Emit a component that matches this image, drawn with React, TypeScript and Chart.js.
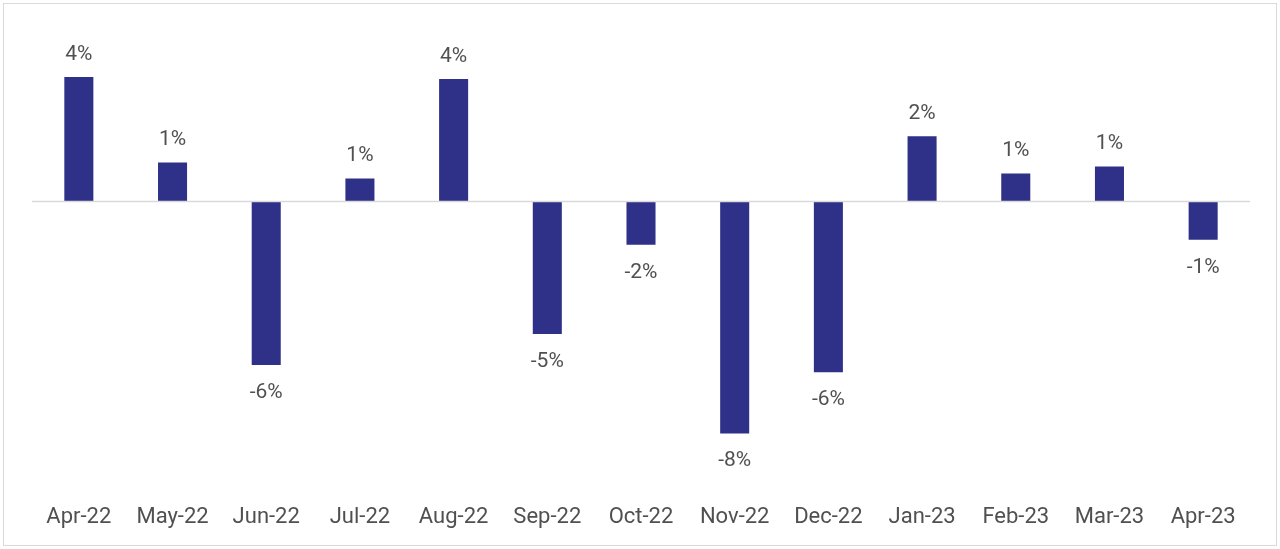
import React, { useEffect, useRef } from "react";
import { Chart, registerables } from "chart.js";

Chart.register(...registerables);

const categories = ["Apr-22", "May-22", "Jun-22", "Jul-22", "Aug-22", "Sep-22", "Oct-22", "Nov-22", "Dec-22", "Jan-23", "Feb-23", "Mar-23", "Apr-23"];
const changeValues = [4.43, 1.39, -5.82, 0.82, 4.36, -4.71, -1.54, -8.25, -6.07, 2.32, 1.0, 1.25, -1.36];
const valueLabels = ["4%", "1%", "-6%", "1%", "4%", "-5%", "-2%", "-8%", "-6%", "2%", "1%", "1%", "-1%"];

const BAR_COLOR = "#2F3189";
const TEXT_COLOR = "#505050";
const FONT = "Roboto, 'Noto Sans', sans-serif";

const labelPlugin = {
  id: "valueLabels",
  afterDatasetsDraw(chart: any) {
    const { ctx, chartArea, scales } = chart;
    const y0 = scales.y.getPixelForValue(0);
    ctx.save();
    ctx.strokeStyle = "#D9D9D9";
    ctx.lineWidth = 1.5;
    ctx.beginPath();
    ctx.moveTo(chartArea.left, y0);
    ctx.lineTo(chartArea.right, y0);
    ctx.stroke();
    const meta = chart.getDatasetMeta(0);
    ctx.fillStyle = TEXT_COLOR;
    ctx.font = `21px ${FONT}`;
    ctx.textAlign = "center";
    ctx.textBaseline = "alphabetic";
    meta.data.forEach((bar: any, i: number) => {
      const v = changeValues[i];
      const x = bar.x;
      const y = v >= 0 ? bar.y - 17 : bar.y + 33;
      ctx.fillText(valueLabels[i], x, y);
    });
    ctx.restore();
  },
};

export default function App() {
  const canvasRef = useRef<HTMLCanvasElement | null>(null);

  useEffect(() => {
    if (!canvasRef.current) return;
    const chart = new Chart(canvasRef.current, {
      type: "bar",
      data: {
        labels: categories,
        datasets: [
          {
            data: changeValues,
            backgroundColor: BAR_COLOR,
            borderWidth: 0,
            barPercentage: 0.31,
            categoryPercentage: 1,
          },
        ],
      },
      options: {
        animation: false,
        responsive: false,
        maintainAspectRatio: false,
        layout: { padding: { left: 32, right: 30, top: 61, bottom: -4 } },
        plugins: { legend: { display: false }, tooltip: { enabled: false } },
        scales: {
          x: {
            grid: { display: false, drawTicks: false },
            border: { display: false },
            ticks: {
              color: TEXT_COLOR,
              font: { family: FONT, size: 22 },
              padding: 22,
              maxRotation: 0,
              autoSkip: false,
            },
          },
          y: {
            display: false,
            min: -10,
            max: 5,
          },
        },
      },
      plugins: [labelPlugin],
    });
    return () => chart.destroy();
  }, []);

  return (
    <div style={{ position: "fixed", left: 0, top: 0, width: 1280, height: 549, background: "#fff" }}>
      <canvas ref={canvasRef} width={1280} height={549} style={{ position: "absolute", left: 0, top: 0, width: 1280, height: 549 }} />
      <div
        style={{
          position: "absolute",
          left: 3,
          top: 3,
          width: 1272,
          height: 541,
          border: "1.5px solid #D9D9D9",
          pointerEvents: "none",
        }}
      />
    </div>
  );
}
